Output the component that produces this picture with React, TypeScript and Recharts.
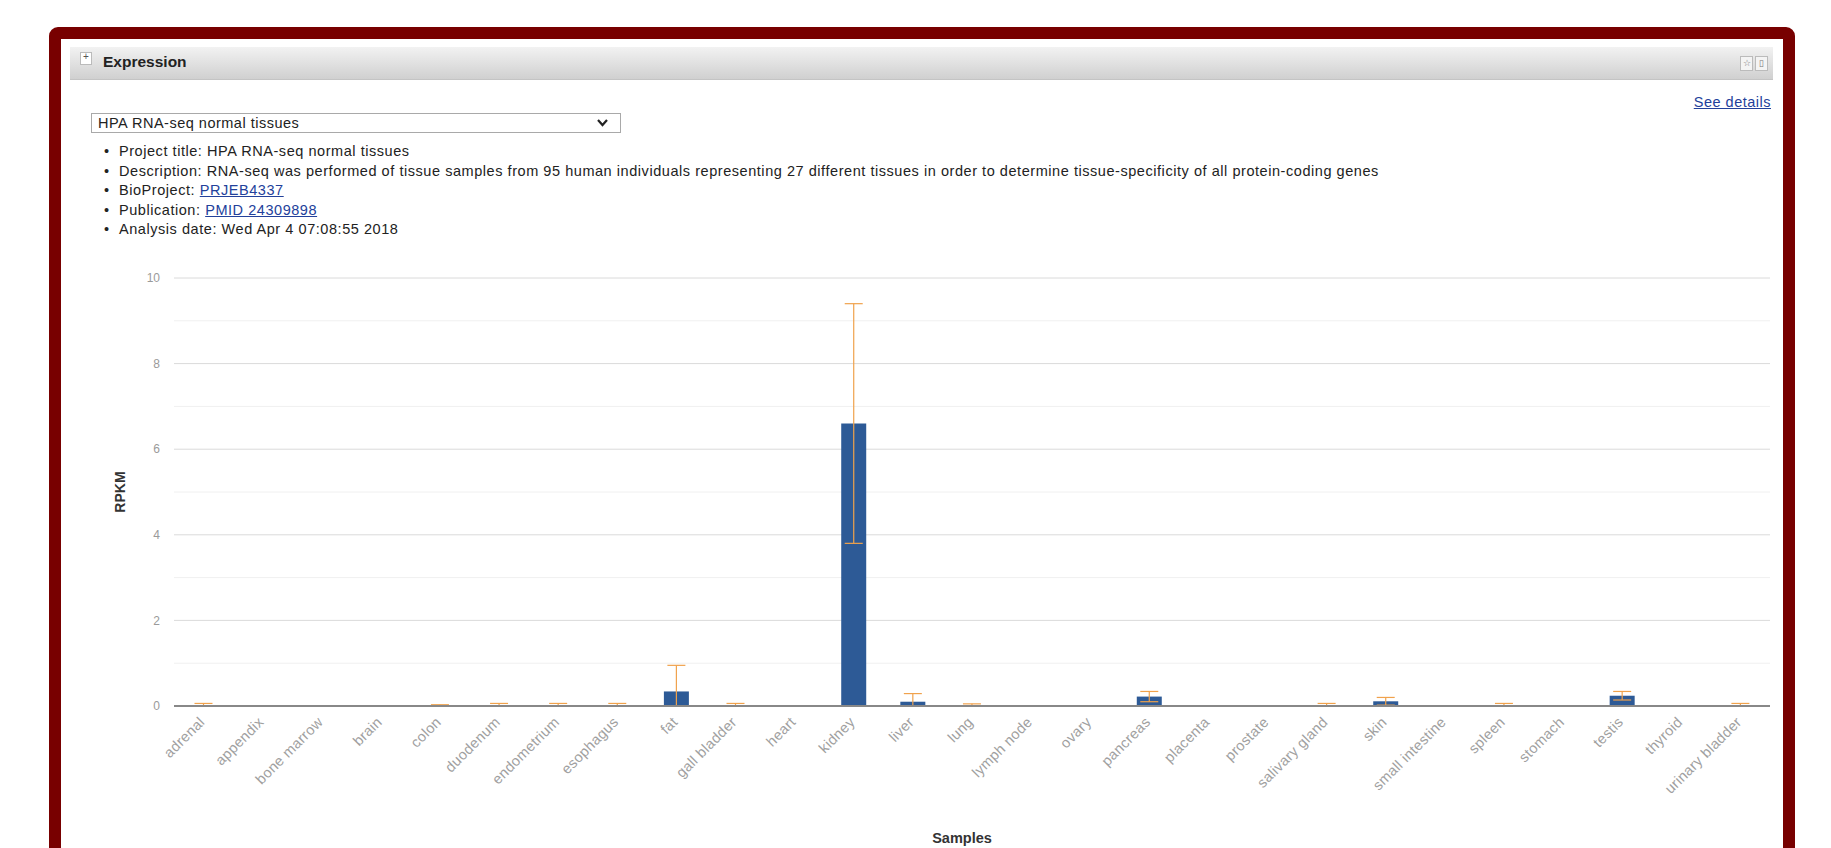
import { BarChart, Bar, XAxis, YAxis, CartesianGrid, ErrorBar } from 'recharts';

// RPKM per tissue (HPA RNA-seq normal tissues)
const tissues = [
  'adrenal', 'appendix', 'bone marrow', 'brain', 'colon', 'duodenum', 'endometrium',
  'esophagus', 'fat', 'gall bladder', 'heart', 'kidney', 'liver', 'lung', 'lymph node',
  'ovary', 'pancreas', 'placenta', 'prostate', 'salivary gland', 'skin', 'small intestine',
  'spleen', 'stomach', 'testis', 'thyroid', 'urinary bladder',
];
const rpkm = [
  0.02, 0, 0, 0, 0.01, 0.02, 0.02, 0.02, 0.34, 0.02, 0, 6.6, 0.1, 0.02, 0, 0, 0.22, 0, 0, 0.02,
  0.11, 0, 0.02, 0, 0.24, 0, 0.02,
];
// error bar extent below / above the mean
const errLow = [
  0.02, 0, 0, 0, 0.01, 0.02, 0.02, 0.02, 0.34, 0.02, 0, 2.8, 0.1, 0.02, 0, 0, 0.12, 0, 0, 0.02,
  0.09, 0, 0.02, 0, 0.1, 0, 0.02,
];
const errHigh = [
  0.04, 0, 0, 0, 0.02, 0.04, 0.04, 0.04, 0.61, 0.04, 0, 2.8, 0.19, 0.03, 0, 0, 0.12, 0, 0, 0.04,
  0.09, 0, 0.04, 0, 0.1, 0, 0.04,
];
const majorTicks = [0, 2, 4, 6, 8, 10];
const minorTicks = [1, 3, 5, 7, 9];

const data = tissues.map((name, i) => ({
  name,
  value: rpkm[i],
  err: errHigh[i] > 0 ? [errLow[i], errHigh[i]] : 0,
}));

const FONT = '"Liberation Sans", Arial, sans-serif';
const TEXT = '#222';
const LINK = '#23419b';

const TissueTick = (props: any) => {
  const { x, y, payload } = props;
  return (
    <text
      transform={`translate(${x + 2}, ${y + 15}) rotate(-45)`}
      textAnchor="end"
      fontSize={14.5}
      letterSpacing={0.3}
      fontFamily={FONT}
      fill="#a0a0a0"
    >
      {payload.value}
    </text>
  );
};

const renderYTitle = (p: any) => {
  const vb = p.viewBox;
  const cy = vb.y + vb.height / 2;
  return (
    <text
      x={120}
      y={cy}
      transform={`rotate(-90, 120, ${cy})`}
      textAnchor="middle"
      dominantBaseline="central"
      fontSize={14}
      fontWeight="bold"
      fontFamily={FONT}
      fill="#333"
    >
      RPKM
    </text>
  );
};

const renderXTitle = (p: any) => {
  const vb = p.viewBox;
  return (
    <text
      x={vb.x + vb.width / 2 - 10}
      y={838}
      textAnchor="middle"
      dominantBaseline="central"
      fontSize={14.5}
      fontWeight="bold"
      fontFamily={FONT}
      fill="#333"
    >
      Samples
    </text>
  );
};

function Header() {
  return (
    <>
      <div
        style={{
          position: 'absolute', left: 70, top: 47, width: 1703, height: 32,
          background: 'linear-gradient(#f2f2f2, #d0d0d0)', borderBottom: '1px solid #c4c4c4',
        }}
      />
      <div
        style={{
          position: 'absolute', left: 80, top: 52, width: 10, height: 11, background: '#fff',
          border: '1px solid #bbb', fontSize: 10, lineHeight: '8px', textAlign: 'center', color: '#555',
        }}
      >
        +
      </div>
      <div style={{ position: 'absolute', left: 103, top: 53, fontSize: 15.5, fontWeight: 'bold', color: TEXT }}>
        Expression
      </div>
      <div
        style={{
          position: 'absolute', left: 1740, top: 56, width: 11, height: 13, background: '#f4f4f4',
          border: '1px solid #bbb', fontSize: 9, lineHeight: '13px', textAlign: 'center', color: '#777',
        }}
      >
        ☆
      </div>
      <div
        style={{
          position: 'absolute', left: 1755, top: 56, width: 11, height: 13, background: '#f4f4f4',
          border: '1px solid #bbb', fontSize: 9, lineHeight: '13px', textAlign: 'center', color: '#777',
        }}
      >
        ▯
      </div>
    </>
  );
}

function ProjectInfo() {
  const lines: React.ReactNode[] = [
    'Project title: HPA RNA-seq normal tissues',
    'Description: RNA-seq was performed of tissue samples from 95 human individuals representing 27 different tissues in order to determine tissue-specificity of all protein-coding genes',
    <>BioProject: <span style={{ color: LINK, textDecoration: 'underline' }}>PRJEB4337</span></>,
    <>Publication: <span style={{ color: LINK, textDecoration: 'underline' }}>PMID 24309898</span></>,
    'Analysis date: Wed Apr 4 07:08:55 2018',
  ];
  return (
    <>
      <div
        style={{
          position: 'absolute', right: 1831 - 1771, top: 94, fontSize: 14.5, letterSpacing: 0.5,
          color: LINK, textDecoration: 'underline',
        }}
      >
        See details
      </div>
      <div
        style={{
          position: 'absolute', left: 91, top: 113, width: 522, height: 18, border: '1px solid #a9a9a9',
          background: '#fff', fontSize: 14.5, letterSpacing: 0.5, lineHeight: '18px', color: TEXT,
          paddingLeft: 6, boxSizing: 'content-box',
        }}
      >
        HPA RNA-seq normal tissues
        <svg style={{ position: 'absolute', right: 12, top: 5 }} width={11} height={8}>
          <path d="M1 1 L5.5 6 L10 1" fill="none" stroke="#222" strokeWidth={2.2} />
        </svg>
      </div>
      {lines.map((line, i) => (
        <div
          key={i}
          style={{
            position: 'absolute', left: 104, top: 143 + i * 19.5, fontSize: 14.5, letterSpacing: 0.55,
            color: TEXT, whiteSpace: 'nowrap',
          }}
        >
          <span style={{ display: 'inline-block', width: 15 }}>•</span>
          {line}
        </div>
      ))}
    </>
  );
}

export default function App() {
  return (
    <div
      style={{
        position: 'absolute', left: 0, top: 0, width: 1831, height: 848, overflow: 'hidden',
        background: '#fff', fontFamily: FONT,
      }}
    >
      {/* panel frame */}
      <div
        style={{
          position: 'absolute', left: 49, top: 27, width: 1722, height: 900,
          border: '12px solid #780000', borderRadius: 9, background: '#fff',
        }}
      />
      <Header />
      <ProjectInfo />
      <div style={{ position: 'absolute', left: 0, top: 0 }}>
        <BarChart
          width={1831}
          height={848}
          data={data}
          margin={{ top: 278, right: 61, left: 110, bottom: 0 }}
          barCategoryGap={0}
        >
          <CartesianGrid vertical={false} horizontalValues={minorTicks} stroke="#f0f0f0" />
          <CartesianGrid vertical={false} horizontalValues={majorTicks} stroke="#dadada" />
          <XAxis
            dataKey="name"
            interval={0}
            height={142}
            tickLine={false}
            tickSize={0}
            axisLine={{ stroke: '#888', strokeWidth: 2 }}
            tick={<TissueTick />}
            label={{ value: 'Samples', content: renderXTitle }}
          />
          <YAxis
            domain={[0, 10]}
            ticks={majorTicks}
            width={64}
            axisLine={false}
            tickLine={false}
            tickMargin={8}
            tick={{ fontSize: 12, fill: '#9a9a9a', fontFamily: FONT }}
            label={{ value: 'RPKM', content: renderYTitle }}
          />
          <Bar dataKey="value" fill="#2d5a96" barSize={25} isAnimationActive={false}>
            <ErrorBar dataKey="err" direction="y" width={9} stroke="#f0a24c" strokeWidth={1.2} />
          </Bar>
        </BarChart>
      </div>
    </div>
  );
}
